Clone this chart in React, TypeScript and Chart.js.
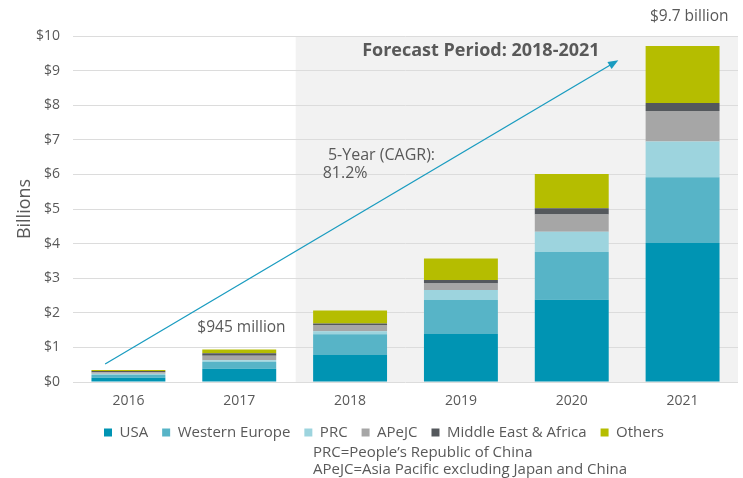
import React, { useEffect, useRef } from "react";
import { Chart, registerables } from "chart.js";

Chart.register(...registerables);

const years = ["2016", "2017", "2018", "2019", "2020", "2021"];
const usa = [0.12, 0.38, 0.78, 1.39, 2.38, 4.02];
const westernEurope = [0.08, 0.2, 0.6, 0.98, 1.38, 1.9];
const prc = [0.04, 0.05, 0.09, 0.29, 0.58, 1.03];
const apejc = [0.04, 0.13, 0.18, 0.19, 0.5, 0.88];
const middleEastAfrica = [0.04, 0.07, 0.04, 0.1, 0.18, 0.23];
const others = [0.03, 0.11, 0.38, 0.62, 0.99, 1.65];

const seriesNames = ["USA", "Western Europe", "PRC", "APeJC", "Middle East & Africa", "Others"];
const seriesColors = ["#0094b3", "#57b4c7", "#9dd4de", "#a6a6a6", "#54585c", "#b5bd00"];

const forecastLabel = "Forecast Period: 2018-2021";
const cagrLabel = ["5-Year (CAGR):", "81.2%"];
const label2017 = "$945 million";
const label2021 = "$9.7 billion";
const footnotes = ["PRC=People\u2019s Republic of China", "APeJC=Asia Pacific excluding Japan and China"];

const FONT = "'Open Sans', sans-serif";
const TEXT = "#595959";

const annotationPlugin = {
  id: "annotations",
  beforeDraw(chart: any) {
    const { ctx, chartArea, scales } = chart;
    const x = scales.x;
    const start = (x.getPixelForValue(1) + x.getPixelForValue(2)) / 2 + 1;
    ctx.save();
    ctx.fillStyle = "#f2f2f2";
    ctx.fillRect(start, chartArea.top, chartArea.right - start, chartArea.bottom - chartArea.top);
    ctx.restore();
  },
  afterDatasetsDraw(chart: any) {
    const { ctx, scales } = chart;
    const x = scales.x;
    const y = scales.y;
    const px = (v: number) => x.getPixelForValue(0) + v * (x.getPixelForValue(1) - x.getPixelForValue(0));
    ctx.save();
    // arrow
    const x1 = px(-0.21), y1 = y.getPixelForValue(0.52);
    const x2 = px(4.42), y2 = y.getPixelForValue(9.3);
    ctx.strokeStyle = "#1a9cc0";
    ctx.fillStyle = "#1a9cc0";
    ctx.lineWidth = 1.3;
    const ang = Math.atan2(y2 - y1, x2 - x1);
    const hl = 11;
    ctx.beginPath();
    ctx.moveTo(x1, y1);
    ctx.lineTo(x2 - Math.cos(ang) * hl * 0.8, y2 - Math.sin(ang) * hl * 0.8);
    ctx.stroke();
    ctx.beginPath();
    ctx.moveTo(x2, y2);
    ctx.lineTo(x2 - hl * Math.cos(ang - 0.38), y2 - hl * Math.sin(ang - 0.38));
    ctx.lineTo(x2 - hl * Math.cos(ang + 0.38), y2 - hl * Math.sin(ang + 0.38));
    ctx.closePath();
    ctx.fill();

    ctx.fillStyle = TEXT;
    ctx.textBaseline = "middle";
    ctx.font = `bold 18px ${FONT}`;
    ctx.textAlign = "center";
    ctx.fillText(forecastLabel, px(3.18), y.getPixelForValue(9.57));

    ctx.font = `16px ${FONT}`;
    ctx.textAlign = "left";
    ctx.fillText(cagrLabel[0], px(1.8), y.getPixelForValue(6.55));
    ctx.fillText(cagrLabel[1], px(1.753), y.getPixelForValue(6.03));

    ctx.font = `15.5px ${FONT}`;
    ctx.textAlign = "center";
    ctx.fillText(label2017, px(1.02), y.getPixelForValue(1.56));
    ctx.fillText(label2021, px(5.06), y.getPixelForValue(10.55));

    ctx.font = `15px ${FONT}`;
    ctx.textAlign = "left";
    ctx.fillText(footnotes[0], 313, 453);
    ctx.fillText(footnotes[1], 313, 470);
    ctx.restore();
  },
};

export default function App() {
  const ref = useRef<HTMLCanvasElement>(null);
  useEffect(() => {
    document.body.style.margin = "0";
    const data = [usa, westernEurope, prc, apejc, middleEastAfrica, others];
    const chart = new Chart(ref.current!, {
      type: "bar",
      data: {
        labels: years,
        datasets: data.map((d, i) => ({
          label: seriesNames[i],
          data: d,
          backgroundColor: seriesColors[i],
          borderWidth: 0,
          categoryPercentage: 1,
          barPercentage: 0.667,
        })),
      },
      options: {
        responsive: false,
        animation: false,
        layout: { padding: { top: 36, right: 5, left: 30, bottom: 28 } },
        plugins: {
          tooltip: { enabled: false },
          legend: {
            position: "bottom",
            labels: {
              boxWidth: 8,
              boxHeight: 8,
              padding: 14,
              color: TEXT,
              font: { family: FONT, size: 15 },
            },
          },
        },
        scales: {
          x: {
            stacked: true,
            grid: { display: false, drawTicks: false },
            border: { display: false },
            ticks: { color: TEXT, font: { family: FONT, size: 14 }, padding: 11 },
            afterFit: (s: any) => { s.height = 29; },
          },
          y: {
            stacked: true,
            min: 0,
            max: 10,
            grid: { color: "#dcdcdc", drawTicks: false },
            border: { display: false },
            ticks: {
              stepSize: 1,
              color: TEXT,
              padding: 13,
              font: { family: FONT, size: 14 },
              callback: (v: any) => "$" + v,
            },
            title: {
              display: true,
              text: "Billions",
              color: TEXT,
              font: { family: FONT, size: 18 },
              padding: { top: -16, bottom: 0 },
            },
            afterFit: (s: any) => { s.width = 43; },
          },
        },
      },
      plugins: [annotationPlugin],
    });
    return () => chart.destroy();
  }, []);
  return (
    <div style={{ width: 743, height: 478 }}>
      <canvas ref={ref} width={743} height={478} style={{ display: "block" }} />
    </div>
  );
}
